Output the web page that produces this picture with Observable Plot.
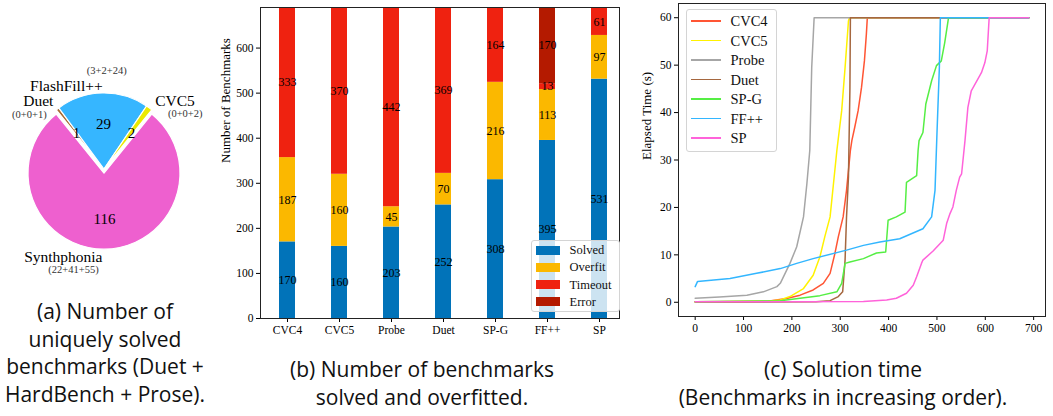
<!DOCTYPE html>
<html><head><meta charset="utf-8">
<script src="https://cdn.jsdelivr.net/npm/d3@7"></script>
<script src="https://cdn.jsdelivr.net/npm/@observablehq/plot@0.6"></script>
<style>
body{margin:0;background:#fff;}
#root{position:relative;width:1053px;height:416px;overflow:hidden;font-family:"Liberation Serif",serif;}
.panel{position:absolute;}
.cap{position:absolute;font-family:"Open Sans",sans-serif;font-size:21px;line-height:27.5px;text-align:center;color:#111;}
.legend{position:absolute;background:rgba(255,255,255,0.8);border:1px solid #d4d4d4;border-radius:3px;font-family:"Liberation Serif",serif;color:#111;box-sizing:border-box;}
.legend .row{position:absolute;left:0;white-space:nowrap;}
</style></head>
<body><div id="root"></div>
<script>
// ---------- (a) pie data ----------
const pieTools = ["Synthphonia", "Duet", "FlashFill++", "CVC5"];
const pieCounts = [116, 1, 29, 2];
const pieBreakdown = ["(22+41+55)", "(0+0+1)", "(3+2+24)", "(0+0+2)"];
// ---------- (b) stacked bar data ----------
const barTools = ["CVC4", "CVC5", "Probe", "Duet", "SP-G", "FF++", "SP"];
const statuses = ["Solved", "Overfit", "Timeout", "Error"];
const solved  = [170, 160, 203, 252, 308, 395, 531];
const overfit = [187, 160, 45, 70, 216, 113, 97];
const timeout = [333, 370, 442, 369, 164, 13, 61];
const errored = [0, 0, 0, 0, 2, 170, 0];
// ---------- (c) solution time curves: [benchmark rank, elapsed seconds] ----------
const lineSeries = ["CVC4", "CVC5", "Probe", "Duet", "SP-G", "FF++", "SP"];
const cvc4Curve = [[0,0.1],[150,0.2],[189,0.8],[217,1.5],[244,2.6],[265,4],[279,6.1],[289,10.3],[296,13.8],[306,18],[313,23.6],[317,27.8],[321,32],[324,34.1],[330,36.9],[337,40.4],[344,45.3],[350,50.9],[354,56.5],[356,60],[690,60]];
const cvc5Curve = [[0,0.05],[150,0.2],[176,0.5],[196,1.2],[224,2.9],[244,5.7],[258,9.6],[268,13.8],[279,18],[286,25],[293,32],[303,40.4],[310,49.5],[317,59.3],[319,60],[690,60]];
const probeCurve = [[0,0.84],[50,1.1],[107,1.5],[141,2.2],[169,3.3],[176,4],[196,8.2],[210,11.7],[224,18],[231,25],[237,32],[241,49.5],[246,60],[690,60]];
const duetCurve = [[0,0.05],[250,0.1],[279,0.34],[296,1.2],[305,2.2],[310,8.9],[313,18],[317,26.4],[320,45],[321,60],[690,60]];
const spgCurve = [[0,0.1],[176,0.34],[217,0.84],[258,1.4],[293,2.2],[303,4],[310,8.2],[320,8.5],[348,9.2],[375,10.4],[394,10.6],[399,17.3],[416,18],[434,19],[437,25.3],[458,26.7],[461,32],[463,34.1],[471,35.8],[477,41.8],[489,46.7],[499,49.9],[509,50.9],[516,54.7],[524,60],[690,60]];
const ffCurve = [[0,3.3],[5,4.4],[72,5],[127,6.1],[176,7.1],[210,8.2],[244,9.2],[313,11],[348,12],[382,12.7],[423,13.4],[471,15.5],[489,18],[496,23.6],[500,35.5],[505,49.5],[507,60],[690,60]];
const spCurve = [[0,0.1],[348,0.15],[396,0.5],[416,0.84],[437,1.9],[451,3.6],[458,5.4],[468,8.2],[471,8.9],[492,10.8],[513,13.1],[520,16.6],[527,18.7],[533,20.1],[540,23.6],[547,26.4],[551,27.1],[558,34.1],[564,41.1],[571,44.6],[592,48.4],[599,50.5],[604,53],[608,60],[690,60]];
const curves = [cvc4Curve, cvc5Curve, probeCurve, duetCurve, spgCurve, ffCurve, spCurve];

// ---------- styles ----------
const pieColors = ["#EE60CF", "#A86A33", "#36B6FF", "#EAEA00"];
const pieExplode = [0.055, 0, 0, 0];
const nameNudge = [[-2, 0], [0, -2], [0, 0], [1, -1]];       // px offsets of the tool names
const subNudge = [[-31, 12.5], [-24, 11.5], [4, -15], [31, 11.5]]; // px offsets of the breakdown labels
const barColors = ["#0173B9", "#FBB800", "#EF2210", "#B41A00"];
const lineColors = ["#FF5534", "#FFF200", "#A6A6A6", "#A5673F", "#55EE44", "#33B6FF", "#FF63DA"];
const serif = "Liberation Serif";

const root = document.getElementById("root");
function place(el, left, top) { el.classList.add("panel"); el.style.left = left + "px"; el.style.top = top + "px"; root.appendChild(el); return el; }

// ================= (a) PIE =================
{
  const W = 210, H = 300, R = 76, cx = 104, cy = 169;
  const total = d3.sum(pieCounts);
  const start = Math.PI * (1 - pieCounts[0] / total);
  const arcs = d3.pie().sort(null).startAngle(start).endAngle(start + 2 * Math.PI)(pieCounts);
  const slices = arcs.map((a, i) => {
    const mid = (a.startAngle + a.endAngle) / 2, e = pieExplode[i];
    const at = (rho) => ({x: rho * Math.sin(mid), y: rho * Math.cos(mid)});
    const p = at(1.1 + e), q = at(0.6 + e), o = at(e);
    return {i, name: pieTools[i], count: pieCounts[i], sub: pieBreakdown[i], arc: a, ox: o.x, oy: o.y,
      nx: p.x + nameNudge[i][0] / R, ny: p.y - nameNudge[i][1] / R,
      sx: p.x + subNudge[i][0] / R, sy: p.y - subNudge[i][1] / R,
      ix: q.x, iy: q.y, side: p.x > 1e-6 ? "start" : "end"};
  });
  const wedges = (index, scales) => {
    const x0 = scales.x(0), r = scales.x(1) - x0;
    const g = d3.create("svg:g");
    const arcGen = d3.arc().innerRadius(0).outerRadius(r);
    for (const s of slices) {
      g.append("path").attr("d", arcGen(s.arc))
        .attr("transform", `translate(${scales.x(s.ox)},${scales.y(s.oy)})`)
        .attr("fill", pieColors[s.i]).attr("stroke", "white").attr("stroke-width", 1.2).attr("stroke-linejoin", "round");
    }
    return g.node();
  };
  const pie = Plot.plot({
    width: W, height: H, margin: 0,
    style: {fontFamily: serif, color: "black", background: "transparent", overflow: "visible"},
    x: {domain: [-cx / R, (W - cx) / R], axis: null},
    y: {domain: [-(H - cy) / R, cy / R], axis: null},
    marks: [
      wedges,
      Plot.text(slices, {x: "ix", y: "iy", text: "count", fontSize: 15, fill: "black"}),
      Plot.text(slices.filter(s => s.side === "end"), {x: "nx", y: "ny", text: "name", textAnchor: "end", fontSize: 15.5, fill: "black"}),
      Plot.text(slices.filter(s => s.side === "start"), {x: "nx", y: "ny", text: "name", textAnchor: "start", fontSize: 15.5, fill: "black"}),
      Plot.text(slices, {x: "sx", y: "sy", text: "sub", fontSize: 10.5, fill: "#333"})
    ]
  });
  place(pie, 0, 0);
}

// ================= (b) STACKED BARS =================
{
  const cols = [solved, overfit, timeout, errored];
  const rows = [];
  barTools.forEach((t, i) => statuses.forEach((s, j) => rows.push({tool: t, status: s, value: cols[j][i]})));
  const chart = Plot.plot({
    width: 420, height: 340, marginLeft: 50, marginRight: 11, marginTop: 7, marginBottom: 22,
    style: {fontFamily: serif, fontSize: "11.5px", color: "black", background: "transparent", overflow: "visible"},
    x: {domain: barTools, paddingInner: 0.7, paddingOuter: 0.252, align: 0.62, label: null, tickSize: 4, tickPadding: 3},
    y: {domain: [0, 690], ticks: d3.range(0, 601, 100), tickSize: 4, tickPadding: 3, label: null},
    color: {domain: statuses, range: barColors},
    marks: [
      Plot.barY(rows, {x: "tool", y: "value", fill: "status", order: statuses, clip: true}),
      Plot.text(rows, Plot.stackY({x: "tool", y: "value", z: "status", order: statuses,
        text: d => d.value > 5 ? String(d.value) : "", fontSize: 12, fill: "black"})),
      Plot.frame({stroke: "#222"}),
      Plot.text(["Number of Benchmarks"], {frameAnchor: "left", rotate: -90, dx: -35, text: d => d, fontSize: 13, fill: "black"})
    ]
  });
  place(chart, 210, 0);
  const lg = document.createElement("div");
  lg.className = "legend";
  Object.assign(lg.style, {left: "530.5px", top: "240px", width: "89px", height: "72px", fontSize: "12.5px"});
  statuses.forEach((s, k) => {
    const row = document.createElement("div");
    row.className = "row";
    row.style.top = (9.3 + 17.1 * k - 8) + "px";
    row.style.height = "16px";
    row.innerHTML = `<span style="position:absolute;left:4px;top:3.5px;width:24px;height:9px;background:${barColors[k]}"></span>` +
      `<span style="position:absolute;left:38px;top:0;line-height:16px">${s}</span>`;
    lg.appendChild(row);
  });
  root.appendChild(lg);
}

// ================= (c) LINES =================
{
  const rows = [];
  lineSeries.forEach((s, i) => curves[i].forEach(([x, t]) => rows.push({series: s, x, t})));
  const [xmin, xmax] = d3.extent(rows, d => d.x), ymax = d3.max(rows, d => d.t);
  const mx = 0.05 * (xmax - xmin), my = 0.05 * ymax;
  const chart = Plot.plot({
    width: 423, height: 340, marginLeft: 48, marginRight: 8, marginTop: 3, marginBottom: 24,
    style: {fontFamily: serif, fontSize: "11.5px", color: "black", background: "transparent", overflow: "visible"},
    x: {domain: [xmin - mx, xmax + mx], ticks: d3.range(0, 701, 100), tickSize: 4, tickPadding: 3, label: null},
    y: {domain: [0 - my, ymax + my], ticks: d3.range(0, 61, 10), tickSize: 4, tickPadding: 3, label: null},
    color: {domain: lineSeries, range: lineColors},
    marks: [
      Plot.line(rows, {x: "x", y: "t", z: "series", stroke: "series", strokeWidth: 1.5}),
      Plot.frame({stroke: "#222"}),
      Plot.text(["Elapsed Time (s)"], {frameAnchor: "left", rotate: -90, dx: -32, text: d => d, fontSize: 13, fill: "black"})
    ]
  });
  place(chart, 630, 0);
  const lg = document.createElement("div");
  lg.className = "legend";
  Object.assign(lg.style, {left: "685.5px", top: "9px", width: "91px", height: "143px", fontSize: "14.5px"});
  lineSeries.forEach((s, k) => {
    const row = document.createElement("div");
    row.className = "row";
    row.style.top = (11.4 + 19.5 * k - 9) + "px";
    row.style.height = "18px";
    row.innerHTML = `<span style="position:absolute;left:4px;top:8px;width:30px;height:1.6px;background:${lineColors[k]}"></span>` +
      `<span style="position:absolute;left:44px;top:0;line-height:18px">${s}</span>`;
    lg.appendChild(row);
  });
  root.appendChild(lg);
}

// ================= captions =================
function caption(html, left, top, width) {
  const d = document.createElement("div");
  d.className = "cap";
  Object.assign(d.style, {left: left + "px", top: top + "px", width: width + "px"});
  d.innerHTML = html;
  root.appendChild(d);
}
caption("(a) Number of<br>uniquely solved<br>benchmarks (Duet +<br>HardBench + Prose).", 0, 298, 210);
caption("(b) Number of benchmarks<br>solved and overfitted.", 272, 356, 300);
caption("(c) Solution time<br>(Benchmarks in increasing order).", 643, 356, 400);
</script></body></html>
